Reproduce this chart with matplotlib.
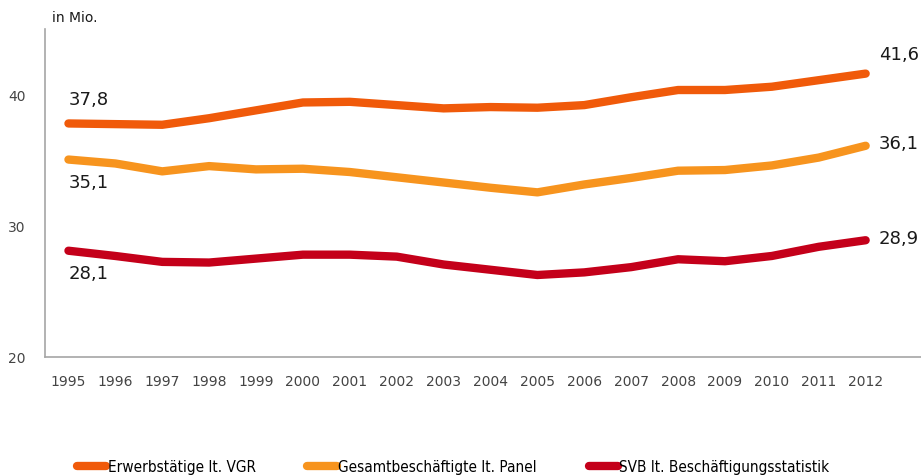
import matplotlib
matplotlib.use("Agg")
import matplotlib.pyplot as plt
from matplotlib import font_manager

years = list(range(1995, 2013))
erwerbstaetige_vgr = [37.8, 37.75, 37.7, 38.2, 38.8, 39.4, 39.45, 39.2, 38.95, 39.05,
                      39.0, 39.2, 39.8, 40.35, 40.35, 40.6, 41.1, 41.6]
gesamt_panel = [35.05, 34.75, 34.15, 34.55, 34.3, 34.35, 34.1, 33.7, 33.3, 32.9,
                32.55, 33.15, 33.65, 34.2, 34.25, 34.6, 35.2, 36.1]
svb_statistik = [28.1, 27.7, 27.25, 27.2, 27.5, 27.8, 27.8, 27.65, 27.05, 26.65,
                 26.25, 26.45, 26.85, 27.45, 27.3, 27.7, 28.4, 28.9]

series_names = ["Erwerbstätige lt. VGR", "Gesamtbeschäftigte lt. Panel",
                "SVB lt. Beschäftigungsstatistik"]
series_values = [erwerbstaetige_vgr, gesamt_panel, svb_statistik]
colors = ["#F05A0A", "#F7941E", "#C4001A"]
start_labels = ["37,8", "35,1", "28,1"]
end_labels = ["41,6", "36,1", "28,9"]
y_ticks = [20, 30, 40]

names = {f.name for f in font_manager.fontManager.ttflist}
if "Liberation Sans Narrow" in names:
    legend_prop = {"family": "Liberation Sans Narrow", "size": 12.4}
else:
    legend_prop = {"family": "DejaVu Sans", "stretch": "condensed", "size": 11}

fig = plt.figure(figsize=(9.21, 4.77), dpi=100)
ax = fig.add_axes([45 / 921, 1 - 358 / 477, 891 / 921, 328 / 477])

for name, vals, col in zip(series_names, series_values, colors):
    ax.plot(years, vals, color=col, lw=6, solid_capstyle="round",
            solid_joinstyle="round", label=name)

# value labels at start and end
for vals, lab in zip(series_values, start_labels):
    off = 1.9 if vals is erwerbstaetige_vgr else -1.7
    ax.text(years[0], vals[0] + off, lab, fontsize=13, color="#1a1a1a",
            ha="left", va="center")
for vals, lab in zip(series_values, end_labels):
    off = 1.5 if vals is erwerbstaetige_vgr else 0.2
    ax.text(years[-1] + 0.28, vals[-1] + off, lab, fontsize=13, color="#1a1a1a",
            ha="left", va="center")

ax.set_xlim(1994.5, 2013.5)
ax.set_ylim(20, 45)
ax.set_yticks(y_ticks)
ax.set_xticks(years)
ax.tick_params(length=0, labelsize=10, colors="#444444", pad=12)
ax.tick_params(axis="y", pad=14)
for s in ["top", "right"]:
    ax.spines[s].set_visible(False)
for s in ["left", "bottom"]:
    ax.spines[s].set_color("#a6a6a6")
    ax.spines[s].set_linewidth(1.2)

fig.text(52 / 921, 1 - 18 / 477, "in Mio.", fontsize=10, color="#1a1a1a",
         ha="left", va="center")

fig.legend(loc="center", bbox_to_anchor=(0.492, 1 - 468 / 477), ncol=3,
           frameon=False, handlelength=1.9, handletextpad=0.1, columnspacing=3.4,
           prop=legend_prop)

fig.savefig("out.png", dpi=100)
